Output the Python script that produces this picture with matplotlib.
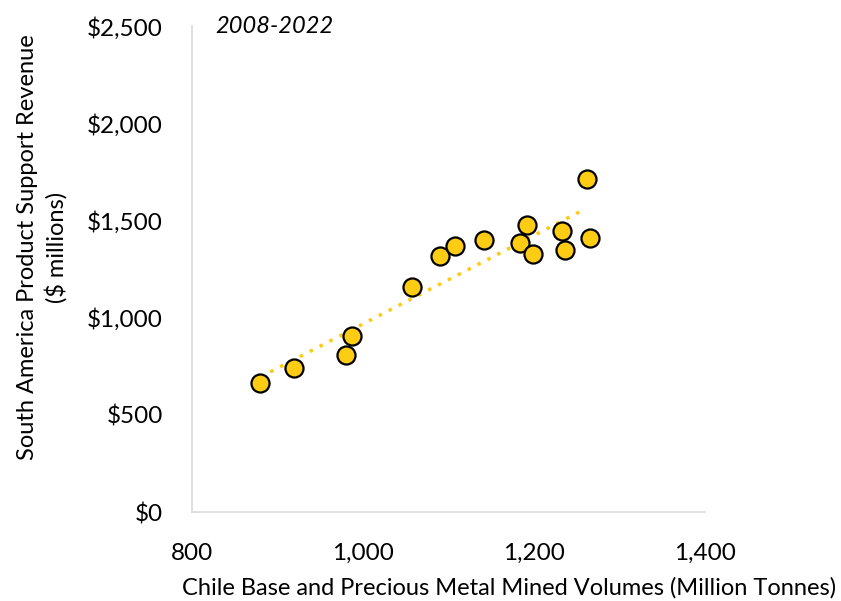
import matplotlib
matplotlib.use("Agg")
import matplotlib.pyplot as plt
import numpy as np
from matplotlib.ticker import FuncFormatter

volumes = [880, 919, 980, 987, 1057, 1090, 1108, 1141, 1184, 1192, 1199, 1233, 1236, 1262, 1265]
revenue = [663, 741, 807, 905, 1157, 1317, 1368, 1399, 1384, 1476, 1327, 1445, 1348, 1713, 1409]
x_ticks = [800, 1000, 1200, 1400]
y_ticks = [0, 500, 1000, 1500, 2000, 2500]
period_label = "2008-2022"
x_label = "Chile Base and Precious Metal Mined Volumes (Million Tonnes)"
y_label = "South America Product Support Revenue\n($ millions)"

plt.rcParams['font.family'] = ['Lato', 'DejaVu Sans']

fig = plt.figure(figsize=(8.41, 6.01), dpi=100)
ax = fig.add_axes([0.2283, 0.148, 0.61, 0.8087])

x = np.array(volumes, dtype=float)
y = np.array(revenue, dtype=float)
m, b = np.polyfit(x, y, 1)
xs = np.array([x.min(), x.max() - 5])
ax.plot(xs, m * xs + b, linestyle=(0, (1, 2.2)), color='#FFC914', linewidth=2.5, zorder=2)

ax.plot(x, y, 'o', markersize=13, markerfacecolor='#FFCC14', markeredgecolor='black',
        markeredgewidth=1.6, zorder=3)

ax.set_xlim(800, 1400)
ax.set_ylim(0, 2500)
ax.set_xticks(x_ticks)
ax.set_yticks(y_ticks)
ax.xaxis.set_major_formatter(FuncFormatter(lambda v, p: f"{int(v):,}"))
ax.yaxis.set_major_formatter(FuncFormatter(lambda v, p: f"${int(v):,}"))
ax.tick_params(axis='both', length=0, labelsize=17.5)
ax.tick_params(axis='y', pad=21)
ax.tick_params(axis='x', pad=22)

for s in ['top', 'right']:
    ax.spines[s].set_visible(False)
for s in ['left', 'bottom']:
    ax.spines[s].set_color('#D9D9D9')
    ax.spines[s].set_linewidth(1.2)

fig.text(509 / 841, 1 - 595 / 601, x_label, fontsize=17, ha='center', va='baseline')
fig.text(42 / 841, 1 - 247 / 601, y_label, fontsize=17, rotation=90,
         ha='center', va='center', multialignment='center', linespacing=1.35)

ax.text(0.045, 1.0, period_label, transform=ax.transAxes, fontsize=17, style='italic',
        ha='left', va='center')

fig.savefig("out.png", dpi=100)
